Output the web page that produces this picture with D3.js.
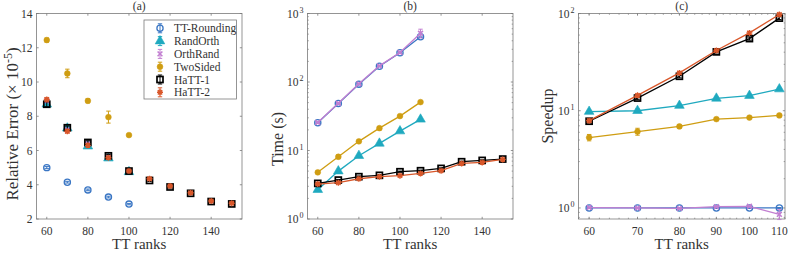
<!DOCTYPE html>
<html>
<head>
<meta charset="utf-8">
<script src="https://cdn.jsdelivr.net/npm/d3@7"></script>
<style>
  body { margin: 0; background: #fff; }
  svg { display: block; font-family: "Liberation Serif", "Times New Roman", serif; }
</style>
</head>
<body>
<div id="chart"></div>
<script>
var svgWidth = 789;
var svgHeight = 253;

// x values
var ranksFull = [60, 70, 80, 90, 100, 110, 120, 130, 140, 150];
var ranksA = [60, 70, 80, 90, 100];
var ranksB = [60, 70, 80, 90, 100, 110];

var seriesNames = ["TT-Rounding", "RandOrth", "OrthRand", "TwoSided", "HaTT-1", "HaTT-2"];

// (a) relative error (x 1e-5) and error bar half widths
var aRounding = [5.0, 4.15, 3.7, 3.28, 2.87];
var aRandOrth = [8.7, 7.3, 6.25, 5.55, 4.75];
var aOrthRand = [8.9, 7.2, 6.4, 5.6, 4.8];
var aTwoSided = [12.45, 10.5, 8.9, 7.95, 6.9];
var aHaTT1 = [8.7, 7.33, 6.47, 5.69, 4.8, 4.25, 3.87, 3.5, 3.02, 2.88];
var aHaTT2 = [8.98, 7.12, 6.3, 5.58, 4.8, 4.35, 3.93, 3.53, 3.05, 2.92];
var aRoundingErr = [0.06, 0.05, 0.05, 0.05, 0.04];
var aRandOrthErr = [0.1, 0.1, 0.08, 0.07, 0.06];
var aOrthRandErr = [0.1, 0.1, 0.08, 0.07, 0.06];
var aTwoSidedErr = [0.12, 0.25, 0.12, 0.35, 0.05];
var aHaTT1Err = [0.15, 0.1, 0.1, 0.08, 0.08, 0.06, 0.06, 0.05, 0.05, 0.04];
var aHaTT2Err = [0.1, 0.1, 0.1, 0.08, 0.08, 0.06, 0.06, 0.05, 0.05, 0.04];

// (b) time in seconds
var bRounding = [25.4, 48.7, 93, 170, 267, 457];
var bRandOrth = [2.68, 5.0, 8.4, 12.7, 19.2, 28.5];
var bOrthRand = [25.6, 49, 94, 172, 270, 515];
var bTwoSided = [4.8, 8.1, 13.6, 21.2, 31.8, 50.9];
var bHaTT1 = [3.31, 3.7, 4.15, 4.34, 4.9, 5.07, 5.48, 6.86, 7.17, 7.5];
var bHaTT2 = [3.24, 3.39, 3.87, 4.15, 4.29, 4.63, 5.07, 6.48, 6.7, 7.42];
var bRoundingErr = [0.5, 1, 2, 3, 5, 10];
var bRandOrthErr = [0.05, 0.1, 0.15, 0.2, 0.3, 0.5];
var bOrthRandErr = [0.5, 1, 2, 3, 6, 75];
var bTwoSidedErr = [0.2, 0.5, 0.3, 0.4, 0.5, 0.8];
var bHaTT1Err = [0.1, 0.08, 0.1, 0.08, 0.1, 0.1, 0.1, 0.12, 0.12, 0.12];
var bHaTT2Err = [0.08, 0.08, 0.08, 0.08, 0.08, 0.08, 0.1, 0.1, 0.1, 0.1];

// (c) speedup
var cRounding = [1, 1, 1, 1, 1, 1];
var cRandOrth = [9.8, 10.0, 11.3, 13.4, 14.3, 16.7];
var cOrthRand = [1.01, 1.0, 0.99, 1.03, 1.04, 0.86];
var cTwoSided = [5.3, 6.1, 6.9, 8.2, 8.5, 8.95];
var cHaTT1 = [7.8, 13.5, 22.6, 40.3, 55.2, 89.6];
var cHaTT2 = [7.9, 14.4, 24.5, 41.6, 63.2, 97.7];
var cRoundingErr = [0.01, 0.01, 0.01, 0.01, 0.01, 0.01];
var cRandOrthErr = [0.3, 0.4, 0.3, 0.4, 0.4, 0.5];
var cOrthRandErr = [0.01, 0.01, 0.02, 0.02, 0.02, 0.1];
var cTwoSidedErr = [0.4, 0.5, 0.25, 0.2, 0.15, 0.15];
var cHaTT1Err = [0.3, 0.5, 0.8, 1, 2, 3];
var cHaTT2Err = [0.3, 0.5, 0.8, 1, 2, 3];

var colors = ["#3a76c4", "#1fa9bf", "#c27fd1", "#cf9d12", "#000000", "#d9572a"];
var shapes = ["circle", "triangle", "x", "dot", "square", "star"];

var axisColor = "#7a7a7a";
var textColor = "#333";

var top_ = 13.5, bottom_ = 219;

var svg = d3.select("#chart")
    .append("svg")
    .attr("width", svgWidth)
    .attr("height", svgHeight);

function drawMarker(g, shape, x, y, color) {
    if (shape === "circle") {
        g.append("circle").attr("cx", x).attr("cy", y).attr("r", 3.1)
            .attr("fill", "none").attr("stroke", color).attr("stroke-width", 1.3);
    } else if (shape === "triangle") {
        g.append("path").attr("transform", `translate(${x},${y})`)
            .attr("d", d3.symbol(d3.symbolTriangle, 40)())
            .attr("fill", color).attr("stroke", color).attr("stroke-width", 0.6);
    } else if (shape === "x") {
        g.append("path")
            .attr("d", `M${x - 2.4},${y - 2.4}L${x + 2.4},${y + 2.4}M${x - 2.4},${y + 2.4}L${x + 2.4},${y - 2.4}`)
            .attr("stroke", color).attr("stroke-width", 1.6);
    } else if (shape === "dot") {
        g.append("circle").attr("cx", x).attr("cy", y).attr("r", 2.9)
            .attr("fill", color).attr("stroke", color).attr("stroke-width", 0.5);
    } else if (shape === "square") {
        g.append("rect").attr("x", x - 3).attr("y", y - 3).attr("width", 6).attr("height", 6)
            .attr("fill", "none").attr("stroke", color).attr("stroke-width", 1.7);
    } else if (shape === "star") {
        g.append("path")
            .attr("d", `M${x - 3},${y}L${x + 3},${y}M${x},${y - 3}L${x},${y + 3}` +
                `M${x - 2.2},${y - 2.2}L${x + 2.2},${y + 2.2}M${x - 2.2},${y + 2.2}L${x + 2.2},${y - 2.2}`)
            .attr("stroke", color).attr("stroke-width", 1.4);
    }
}

function drawErrorBar(g, x, yLo, yHi, color) {
    g.append("path")
        .attr("d", `M${x},${yLo}L${x},${yHi}M${x - 2.2},${yLo}L${x + 2.2},${yLo}M${x - 2.2},${yHi}L${x + 2.2},${yHi}`)
        .attr("stroke", color).attr("stroke-width", 1).attr("fill", "none");
}

function drawPanel(opt) {
    var g = svg.append("g");
    var x = opt.xScale, y = opt.yScale;
    var x0 = x.range()[0], x1 = x.range()[1];

    // frame
    g.append("rect").attr("x", x0).attr("y", top_).attr("width", x1 - x0).attr("height", bottom_ - top_)
        .attr("fill", "#fff").attr("stroke", axisColor).attr("stroke-width", 0.8);

    // x ticks (inside, top and bottom)
    opt.xMinor.forEach(function(t) {
        var px = x(t);
        g.append("path").attr("d", `M${px},${bottom_}L${px},${bottom_ - 1.3}M${px},${top_}L${px},${top_ + 1.3}`)
            .attr("stroke", axisColor).attr("stroke-width", 0.7);
    });
    opt.xTicks.forEach(function(t) {
        var px = x(t);
        g.append("path").attr("d", `M${px},${bottom_}L${px},${bottom_ - 2.2}M${px},${top_}L${px},${top_ + 2.2}`)
            .attr("stroke", axisColor).attr("stroke-width", 0.8);
        g.append("text").attr("x", px).attr("y", 235).attr("text-anchor", "middle")
            .attr("font-size", 11.5).attr("fill", textColor).text(t);
    });

    // y ticks
    opt.yMinor.forEach(function(t) {
        var py = y(t);
        g.append("path").attr("d", `M${x0},${py}L${x0 + 1.3},${py}M${x1},${py}L${x1 - 1.3},${py}`)
            .attr("stroke", axisColor).attr("stroke-width", 0.7);
    });
    opt.yTicks.forEach(function(t) {
        var py = y(t);
        g.append("path").attr("d", `M${x0},${py}L${x0 + 2.2},${py}M${x1},${py}L${x1 - 2.2},${py}`)
            .attr("stroke", axisColor).attr("stroke-width", 0.8);
        var lab = g.append("text").attr("x", x0 - 4).attr("y", py + 4).attr("text-anchor", "end")
            .attr("font-size", 11.5).attr("fill", textColor);
        if (opt.log) {
            lab.attr("x", x0 - 9);
            lab.text("10");
            g.append("text").attr("x", x0 - 4).attr("y", py - 1).attr("text-anchor", "end")
                .attr("font-size", 8).attr("fill", textColor).text(Math.round(Math.log10(t)));
        } else {
            lab.text(t);
        }
    });

    // title and labels
    g.append("text").attr("x", (x0 + x1) / 2).attr("y", 10).attr("text-anchor", "middle")
        .attr("font-size", 11.5).attr("fill", textColor).text(opt.title);
    g.append("text").attr("x", (x0 + x1) / 2).attr("y", 249).attr("text-anchor", "middle")
        .attr("font-size", 15).attr("fill", textColor).text("TT ranks");
    var yl = g.append("text")
        .attr("transform", `translate(${opt.yLabelX},${opt.yLabelY}) rotate(-90)`)
        .attr("text-anchor", "middle").attr("font-size", opt.yLabelSize).attr("fill", textColor);
    opt.yLabel(yl);

    // series
    opt.series.forEach(function(s, i) {
        var col = colors[i];
        var sg = g.append("g");
        if (opt.lines) {
            sg.append("path")
                .datum(s.vals)
                .attr("fill", "none").attr("stroke", col).attr("stroke-width", 1.3)
                .attr("d", d3.line().x(function(d, k) { return x(s.ranks[k]); }).y(function(d) { return y(d); }));
        }
        s.vals.forEach(function(v, k) {
            var px = x(s.ranks[k]);
            drawErrorBar(sg, px, y(v - s.err[k]), y(v + s.err[k]), col);
        });
        s.vals.forEach(function(v, k) {
            drawMarker(sg, shapes[i], x(s.ranks[k]), y(v), col);
        });
    });
}

function range(a, b, step) { return d3.range(a, b + 1e-9, step); }
function logMinor(lo, hi) {
    var out = [];
    for (var e = Math.floor(Math.log10(lo)); e < Math.ceil(Math.log10(hi)); e++) {
        for (var m = 2; m <= 9; m++) {
            var v = m * Math.pow(10, e);
            if (v >= lo && v <= hi) out.push(v);
        }
    }
    return out;
}

// Panel (a)
drawPanel({
    title: "(a)",
    xScale: d3.scaleLinear().domain([55, 155]).range([36.5, 242]),
    yScale: d3.scaleLinear().domain([2, 14]).range([bottom_, top_]),
    xTicks: [60, 80, 100, 120, 140], xMinor: [],
    yTicks: [2, 4, 6, 8, 10, 12, 14], yMinor: [],
    log: false, lines: false,
    yLabelX: 17.5, yLabelY: 124, yLabelSize: 17,
    yLabel: function(t) {
        t.text("Relative Error (\u00d7 10");
        t.append("tspan").attr("dy", -6).attr("font-size", 12).text("-5");
        t.append("tspan").attr("dy", 6).text(")");
    },
    series: [
        { ranks: ranksA, vals: aRounding, err: aRoundingErr },
        { ranks: ranksA, vals: aRandOrth, err: aRandOrthErr },
        { ranks: ranksA, vals: aOrthRand, err: aOrthRandErr },
        { ranks: ranksA, vals: aTwoSided, err: aTwoSidedErr },
        { ranks: ranksFull, vals: aHaTT1, err: aHaTT1Err },
        { ranks: ranksFull, vals: aHaTT2, err: aHaTT2Err }
    ]
});

// Panel (b)
drawPanel({
    title: "(b)",
    xScale: d3.scaleLinear().domain([55, 155]).range([307.5, 513]),
    yScale: d3.scaleLog().domain([1, 1000]).range([bottom_, top_]),
    xTicks: [60, 80, 100, 120, 140], xMinor: [],
    yTicks: [1, 10, 100, 1000], yMinor: logMinor(1, 1000),
    log: true, lines: true,
    yLabelX: 283, yLabelY: 139, yLabelSize: 16,
    yLabel: function(t) { t.text("Time (s)"); },
    series: [
        { ranks: ranksB, vals: bRounding, err: bRoundingErr },
        { ranks: ranksB, vals: bRandOrth, err: bRandOrthErr },
        { ranks: ranksB, vals: bOrthRand, err: bOrthRandErr },
        { ranks: ranksB, vals: bTwoSided, err: bTwoSidedErr },
        { ranks: ranksFull, vals: bHaTT1, err: bHaTT1Err },
        { ranks: ranksFull, vals: bHaTT2, err: bHaTT2Err }
    ]
});

// Panel (c)
drawPanel({
    title: "(c)",
    xScale: d3.scaleLog().domain([58, 112]).range([578.5, 785]),
    yScale: d3.scaleLog().domain([0.77, 100]).range([bottom_, top_]),
    xTicks: [60, 70, 80, 90, 100, 110], xMinor: range(58, 112, 2),
    yTicks: [1, 10, 100], yMinor: logMinor(0.77, 100),
    log: true, lines: true,
    yLabelX: 553, yLabelY: 116, yLabelSize: 16,
    yLabel: function(t) { t.text("Speedup"); },
    series: [
        { ranks: ranksB, vals: cRounding, err: cRoundingErr },
        { ranks: ranksB, vals: cRandOrth, err: cRandOrthErr },
        { ranks: ranksB, vals: cOrthRand, err: cOrthRandErr },
        { ranks: ranksB, vals: cTwoSided, err: cTwoSidedErr },
        { ranks: ranksB, vals: cHaTT1, err: cHaTT1Err },
        { ranks: ranksB, vals: cHaTT2, err: cHaTT2Err }
    ]
});

// Legend in panel (a)
var legend = svg.append("g");
legend.append("rect").attr("x", 144).attr("y", 20).attr("width", 92.5).attr("height", 79)
    .attr("fill", "#fff").attr("stroke", axisColor).attr("stroke-width", 0.8);
seriesNames.forEach(function(name, i) {
    var cy = 28.3 + i * 12.8;
    drawErrorBar(legend, 160, cy + 4.5, cy - 4.5, colors[i]);
    drawMarker(legend, shapes[i], 160, cy, colors[i]);
    legend.append("text").attr("x", 174).attr("y", cy + 4).attr("font-size", 11.5)
        .attr("fill", textColor).text(name);
});
</script>
</body>
</html>
